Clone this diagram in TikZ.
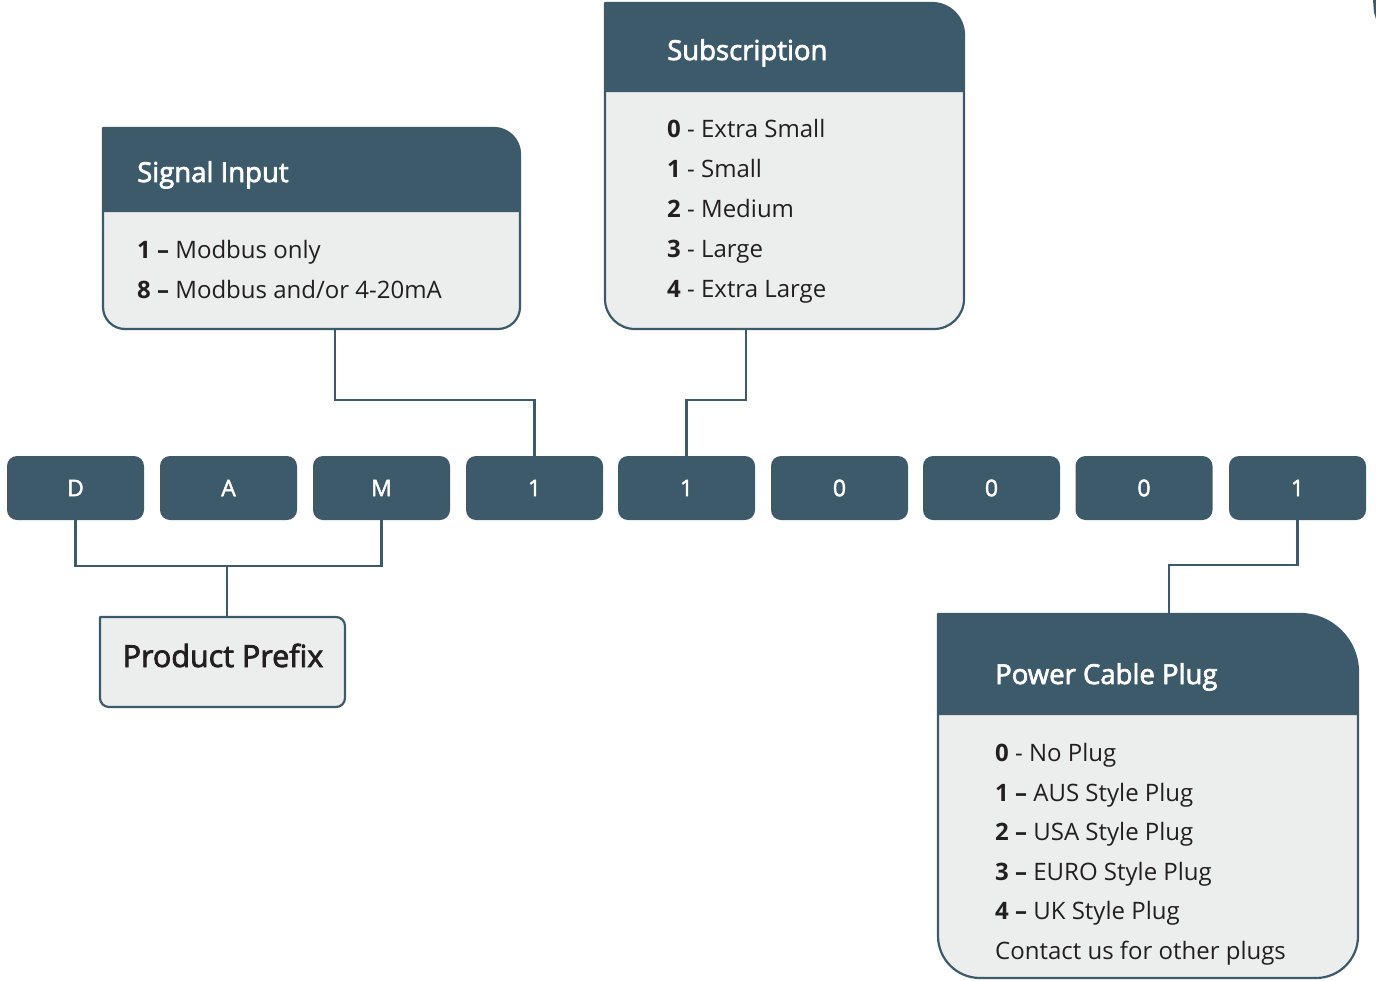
\documentclass[tikz,border=0pt]{standalone}
\usepackage{fontspec}
\setmainfont{Open Sans}
\newfontfamily\semib{Open Sans}[FakeBold=2.5]
\newfontfamily\medf{Open Sans}[FakeBold=2]
\usetikzlibrary{calc}
\definecolor{slate}{HTML}{3D5A6B}
\definecolor{paper}{HTML}{EBEEED}
\definecolor{ink}{HTML}{231F20}

% frame of an info box: sharp top-left corner, rounded other corners,
% dark header band above a light body
% #1 node name, #2 header height, #3 top-right radius, #4 bottom radius
\newcommand\infoframe[4]{%
  \fill[paper] (#1.north west) -- ($(#1.north east)+(-#3pt,0)$)
    arc[start angle=90,end angle=0,radius=#3pt]
    -- ($(#1.south east)+(0,#4pt)$)
    arc[start angle=0,end angle=-90,radius=#4pt]
    -- ($(#1.south west)+(#4pt,0)$)
    arc[start angle=-90,end angle=-180,radius=#4pt] -- cycle;
  \fill[slate] (#1.north west) -- ($(#1.north east)+(-#3pt,0)$)
    arc[start angle=90,end angle=0,radius=#3pt]
    -- ($(#1.north east)+(0,-#2pt)$) -- ($(#1.north west)+(0,-#2pt)$) -- cycle;
  \draw[frame] (#1.north west) -- ($(#1.north east)+(-#3pt,0)$)
    arc[start angle=90,end angle=0,radius=#3pt]
    -- ($(#1.south east)+(0,#4pt)$)
    arc[start angle=0,end angle=-90,radius=#4pt]
    -- ($(#1.south west)+(#4pt,0)$)
    arc[start angle=-90,end angle=-180,radius=#4pt] -- cycle;
}

\tikzset{
  frame/.style={draw=slate,line width=2.2pt,line join=round},
  link/.style={draw=slate,line width=2.4pt},
  codebox/.style={fill=slate,rounded corners=10pt,minimum width=137pt,
    minimum height=64pt,inner sep=0pt,text=white,
    font=\medf\fontsize{23}{27}\selectfont},
  area/.style={inner sep=0pt,outer sep=0pt},
  title/.style={anchor=base west,inner sep=0pt,text=white,
    font=\semib\fontsize{27.5}{32}\selectfont},
  entry/.style={anchor=base west,inner sep=0pt,text=ink,
    font=\fontsize{24}{29}\selectfont},
}

\begin{document}
\begin{tikzpicture}[x=1pt,y=1pt]
\useasboundingbox (0,0) rectangle (1376,-980);

% ---- info box areas ----
\node[area,minimum width=417pt,minimum height=201pt] (sig) at (311.5,-228.5) {};
\node[area,minimum width=359pt,minimum height=326pt] (sub) at (784.5,-166) {};
\node[area,minimum width=420pt,minimum height=364pt] (pow) at (1148,-796) {};

\infoframe{sig}{84}{26}{22}
\infoframe{sub}{89}{32}{30}
\infoframe{pow}{101}{58}{42}

% ---- product prefix box ----
\node[area,minimum width=245pt,minimum height=90pt] (pp) at (222.5,-662) {};
\draw[frame,fill=paper] (pp.north west) -- ($(pp.north east)+(-9,0)$)
  arc[start angle=90,end angle=0,radius=9pt]
  -- ($(pp.south east)+(0,9)$) arc[start angle=0,end angle=-90,radius=9pt]
  -- ($(pp.south west)+(9,0)$) arc[start angle=-90,end angle=-180,radius=9pt]
  -- cycle;
\node[anchor=base,inner sep=0pt,text=ink,font=\semib\fontsize{30.5}{35}\selectfont]
  (pptext) at (223,-667) {Product Prefix};

% ---- code boxes ----
\node[codebox] (c1) at (75.5,-488) {D};
\node[codebox] (c2) at (228.5,-488) {A};
\node[codebox] (c3) at (381.5,-488) {M};
\node[codebox] (c4) at (534.5,-488) {1};
\node[codebox] (c5) at (686.5,-488) {1};
\node[codebox] (c6) at (839.5,-488) {0};
\node[codebox] (c7) at (991.5,-488) {0};
\node[codebox] (c8) at (1144,-488) {0};
\node[codebox] (c9) at (1297.5,-488) {1};

% ---- texts ----
\node[title] (sigt) at (137,-182) {Signal Input};
\node[entry] (sig1) at (137,-258) {\textbf{1 –} Modbus only};
\node[entry] (sig2) at (137,-298) {\textbf{8 –} Modbus and/or 4-20mA};

\node[title] (subt) at (667,-60) {Subscription};
\node[entry] (sub0) at (667,-137) {\textbf{0} - Extra Small};
\node[entry] (sub1) at (667,-177) {\textbf{1} - Small};
\node[entry] (sub2) at (667,-217) {\textbf{2} - Medium};
\node[entry] (sub3) at (667,-257) {\textbf{3} - Large};
\node[entry] (sub4) at (667,-297) {\textbf{4} - Extra Large};

\node[title] (powt) at (995,-684) {Power Cable Plug};
\node[entry] (pow0) at (995,-761) {\textbf{0} - No Plug};
\node[entry] (pow1) at (995,-801) {\textbf{1 –} AUS Style Plug};
\node[entry] (pow2) at (995,-840) {\textbf{2 –} USA Style Plug};
\node[entry] (pow3) at (995,-880) {\textbf{3 –} EURO Style Plug};
\node[entry] (pow4) at (995,-919) {\textbf{4 –} UK Style Plug};
\node[entry] (pow5) at (995,-959) {Contact us for other plugs};

% ---- connectors ----
\draw[link] ([xshift=23.5pt]sig.south) -- ++(0,-71) -| (c4.north);
\draw[link] ([xshift=-38.5pt]sub.south) -- ++(0,-71) -| (c5.north);
\draw[link] (c1.south) -- ++(0,-46) coordinate (pfx) -| (c3.south);
\draw[link] ([xshift=4.5pt]pp.north) -- ([xshift=4.5pt]pp.north |- pfx);
\draw[link] (c9.south) -- ++(0,-45) -| ([xshift=21pt]pow.north);

% ---- sliver at the right edge ----
\fill[slate] (1373,0) -- (1376,0) -- (1376,-19)
  .. controls (1374,-14) .. (1373,0);
\end{tikzpicture}
\end{document}
